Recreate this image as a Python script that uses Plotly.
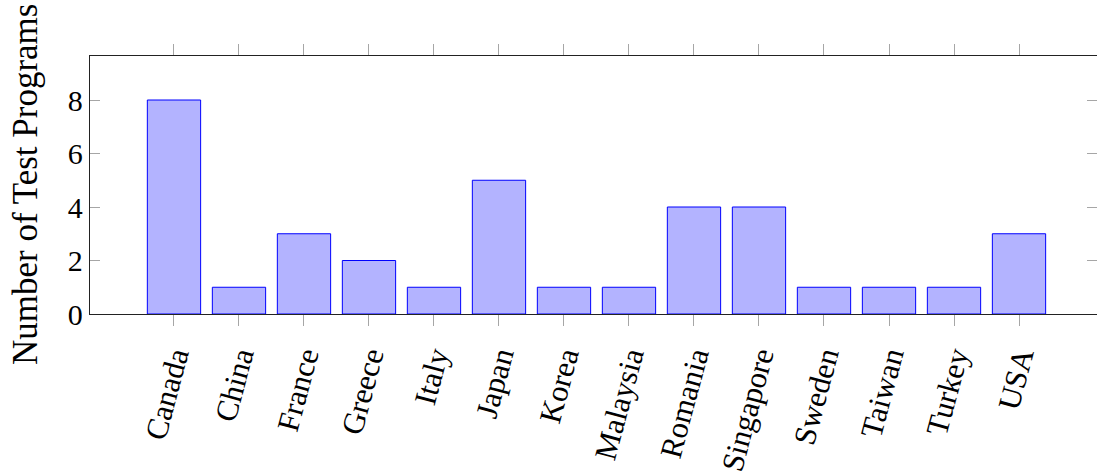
import plotly.graph_objects as go

# Test programs per country
countries = ["Canada", "China", "France", "Greece", "Italy", "Japan", "Korea",
             "Malaysia", "Romania", "Singapore", "Sweden", "Taiwan", "Turkey", "USA"]
programs = [8, 1, 3, 2, 1, 5, 1, 1, 4, 4, 1, 1, 1, 3]
y_ticks = [0, 2, 4, 6, 8]

W, H = 1097, 474
ML, MR, MT, MB = 90, 0, 56, 160
FONT = "'Liberation Serif'"

x_idx = list(range(len(countries)))

fig = go.Figure()
fig.add_trace(go.Bar(
    x=x_idx,
    y=programs,
    width=0.82,
    marker=dict(color="#b3b3ff", line=dict(color="#0000ff", width=1)),
    hoverinfo="x+y",
))

fig.update_layout(
    width=W, height=H,
    margin=dict(l=ML, r=MR, t=MT, b=MB, pad=0),
    plot_bgcolor="white", paper_bgcolor="white",
    showlegend=False,
    font=dict(family=FONT, size=30, color="black"),
    xaxis=dict(
        range=[-1.292, 14.2],
        tickmode="array", tickvals=x_idx, ticktext=countries,
        tickangle=-75,
        ticks="outside", ticklen=11, tickwidth=1, tickcolor="#a6a6a6",
        showline=True, linecolor="#222222", linewidth=1.3, mirror="allticks",
        showgrid=False, zeroline=False,
        tickfont=dict(family=FONT, size=31),
    ),
    yaxis=dict(
        range=[0, 9.645],
        tickmode="array", tickvals=y_ticks,
        ticks="inside", ticklen=10, tickwidth=1, tickcolor="#a6a6a6",
        showline=True, linecolor="#222222", linewidth=1.3, mirror="allticks",
        showgrid=False, zeroline=False,
        tickfont=dict(family=FONT, size=30),
    ),
    annotations=[dict(
        text="Number of Test Programs",
        xref="paper", yref="paper",
        x=(25 - ML) / (W - ML - MR), y=0.5,
        xanchor="center", yanchor="middle",
        textangle=-90, showarrow=False,
        font=dict(family=FONT, size=35, color="black"),
    )],
)

fig.write_html("out.html")
